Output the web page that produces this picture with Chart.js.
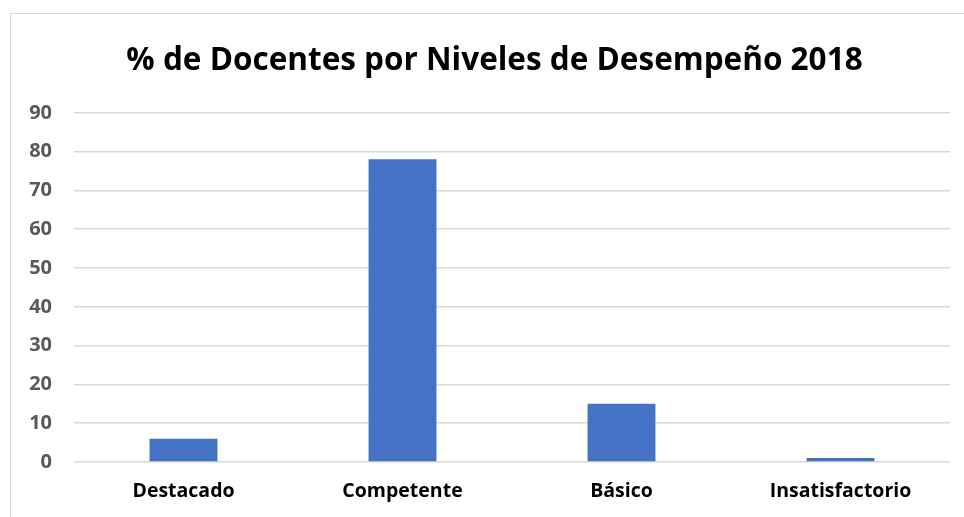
<!DOCTYPE html>
<html><head><meta charset="utf-8">
<script src="https://cdn.jsdelivr.net/npm/chart.js@4"></script>
<style>
html,body{margin:0;padding:0;background:#fff;overflow:hidden;}
#frame{position:absolute;left:10px;top:13px;width:1000px;height:600px;border:1.5px solid #d9d9d9;box-sizing:border-box;}
#wrap{position:absolute;left:0;top:0;width:964px;height:517px;}
</style></head>
<body>
<div id="frame"></div>
<div id="wrap"><canvas id="c" width="964" height="517"></canvas></div>
<script>
const categories = ["Destacado", "Competente", "Básico", "Insatisfactorio"];
const values = [6, 78, 15, 1];
const titleText = "% de Docentes por Niveles de Desempeño 2018";
const yMin = 0, yMax = 90, yStep = 10;

const shiftTitle = {
  id: 'shiftTitle',
  afterLayout(chart) {
    const t = chart.titleBlock;
    if (t) { t.left += 14.5; t.right += 14.5; }
  }
};

new Chart(document.getElementById('c'), {
  type: 'bar',
  data: { labels: categories, datasets: [{ data: values, backgroundColor: '#4472C4', barPercentage: 0.31, categoryPercentage: 1 }] },
  plugins: [shiftTitle],
  options: {
    responsive: false, animation: false,
    layout: { padding: { left: 10, right: 14, top: 0, bottom: 0 } },
    plugins: {
      legend: { display: false }, tooltip: { enabled: false },
      title: { display: true, text: titleText, color: '#000', font: { family: 'Open Sans', size: 31.5, weight: 'bold' }, padding: { top: 42, bottom: 33 } }
    },
    scales: {
      x: {
        grid: { display: false, drawTicks: false }, border: { display: false },
        ticks: { color: '#000', font: { family: 'Open Sans', size: 19.5, weight: 'bold' }, padding: 18 },
        afterFit: s => { s.height = 55; }
      },
      y: {
        min: yMin, max: yMax,
        grid: { color: '#d9d9d9', lineWidth: 1.5, drawTicks: false }, border: { display: false },
        ticks: { stepSize: yStep, color: '#595959', font: { family: 'Open Sans', size: 20, weight: 'bold' }, padding: 22 },
        afterFit: s => { s.width = 64; }
      }
    }
  }
});
</script>
</body></html>
